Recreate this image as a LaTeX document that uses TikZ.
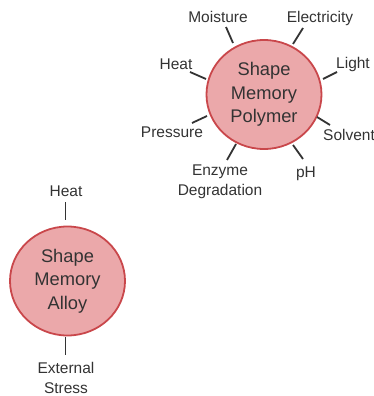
\documentclass[tikz,border=0pt]{standalone}
\usepackage{fontspec}
\setmainfont{Liberation Sans}
\usetikzlibrary{shapes.geometric}
\definecolor{cfill}{HTML}{EBA8AA}
\definecolor{cborder}{HTML}{C9474B}
\definecolor{ctext}{HTML}{333333}
\begin{document}
\begin{tikzpicture}[x=1pt,y=-1pt,
  smcircle/.style={ellipse, draw=cborder, fill=cfill, line width=1.8pt,
    minimum width=115pt, minimum height=109pt, inner sep=0pt,
    align=center, text=ctext, font=\fontsize{18.3}{23.5}\selectfont},
  lbl/.style={anchor=base, inner sep=0pt, align=center, text=ctext,
    font=\fontsize{15.5}{20}\selectfont},
  conn/.style={draw=ctext, line width=1.8pt}]
\useasboundingbox (0,0) rectangle (374,396);
% Shape Memory Polymer
\node[smcircle] (poly) at (264,94.5) {Shape\\Memory\\Polymer};
\node[lbl] (moist) at (218,23) {Moisture};
\node[lbl] (elec) at (320,23) {Electricity};
\node[lbl] (pheat) at (176,70) {Heat};
\node[lbl] (light) at (353,69) {Light};
\node[lbl] (press) at (172,137) {Pressure};
\node[lbl, anchor=base west] (solv) at (323,140) {Solvent};
\node[lbl] (ph) at (306,177) {pH};
\node[lbl] (enz) at (220,195) {Enzyme\\Degradation};
\coordinate (moistA) at (226,27);  \coordinate (moistB) at (233,43);
\coordinate (elecA) at (303,28);   \coordinate (elecB) at (293,44);
\coordinate (pheatA) at (190,72);  \coordinate (pheatB) at (206,79);
\coordinate (lightA) at (337,72);  \coordinate (lightB) at (323,79);
\coordinate (pressA) at (192,123); \coordinate (pressB) at (207,116);
\coordinate (solvA) at (330,125);  \coordinate (solvB) at (317,117);
\coordinate (phA) at (303,159);    \coordinate (phB) at (293,145);
\coordinate (enzA) at (227,160);   \coordinate (enzB) at (236,144);
\draw[conn] (moistA) -- (moistB);
\draw[conn] (elecA) -- (elecB);
\draw[conn] (pheatA) -- (pheatB);
\draw[conn] (lightA) -- (lightB);
\draw[conn] (pressA) -- (pressB);
\draw[conn] (solvA) -- (solvB);
\draw[conn] (phA) -- (phB);
\draw[conn] (enzA) -- (enzB);
% Shape Memory Alloy
\node[smcircle] (alloy) at (67.5,281) {Shape\\Memory\\Alloy};
\node[lbl] (aheat) at (66,196) {Heat};
\node[lbl] (ext) at (66,393) {External\\Stress};
\coordinate (aheatA) at (65.5,202); \coordinate (aheatB) at (65.5,220);
\coordinate (extA) at (65.5,337);   \coordinate (extB) at (65.5,355);
\draw[conn] (aheatA) -- (aheatB);
\draw[conn] (extA) -- (extB);
\end{tikzpicture}
\end{document}
